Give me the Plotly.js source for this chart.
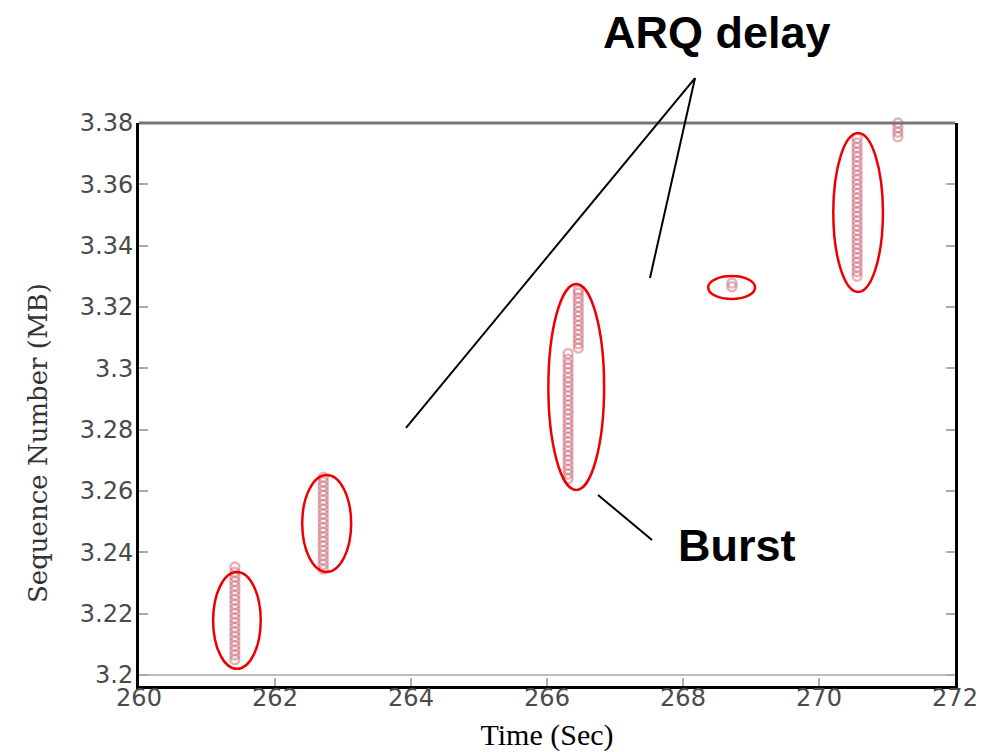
<!DOCTYPE html>
<html>
<head>
<meta charset="utf-8">
<script src="https://cdn.plot.ly/plotly-3.0.1.min.js"></script>
<style>html,body{margin:0;padding:0;background:#fff;}#chart{width:993px;height:752px;}</style>
</head>
<body>
<div id="chart"></div>
<script>
// ---- data ----
// time (s) at which each burst of packets arrives
const burstTimes = [261.41, 262.71, 266.31, 266.46, 268.72, 270.56, 271.16];
// sequence numbers (MB) of the packets in each burst
const burst1Seq = [3.2050, 3.2065, 3.2080, 3.2095, 3.2110, 3.2125, 3.2140, 3.2155, 3.2170, 3.2185, 3.2200,
                   3.2215, 3.2230, 3.2245, 3.2260, 3.2275, 3.2290, 3.2305, 3.2320, 3.2335, 3.2352];
const burst2Seq = [3.2345, 3.2360, 3.2375, 3.2390, 3.2405, 3.2420, 3.2435, 3.2450, 3.2465, 3.2480, 3.2495,
                   3.2510, 3.2525, 3.2540, 3.2555, 3.2570, 3.2585, 3.2600, 3.2615, 3.2630, 3.2645];
const burst3Seq = [3.2640, 3.2655, 3.2670, 3.2685, 3.2700, 3.2715, 3.2730, 3.2745, 3.2760, 3.2775, 3.2790,
                   3.2805, 3.2820, 3.2835, 3.2850, 3.2865, 3.2880, 3.2895, 3.2910, 3.2925, 3.2940, 3.2955,
                   3.2970, 3.2985, 3.3000, 3.3015, 3.3030, 3.3048];
const burst4Seq = [3.3066, 3.3080, 3.3095, 3.3110, 3.3125, 3.3140, 3.3155, 3.3170, 3.3185, 3.3200, 3.3215,
                   3.3230, 3.3245, 3.3255];
const burst5Seq = [3.3266, 3.3278];
const burst6Seq = [3.3300, 3.3315, 3.3330, 3.3345, 3.3360, 3.3375, 3.3390, 3.3405, 3.3420, 3.3435, 3.3450,
                   3.3465, 3.3480, 3.3495, 3.3510, 3.3525, 3.3540, 3.3555, 3.3570, 3.3585, 3.3600, 3.3615,
                   3.3630, 3.3645, 3.3660, 3.3675, 3.3690, 3.3705, 3.3720, 3.3735, 3.3750];
const burst7Seq = [3.3755, 3.3770, 3.3785, 3.3800, 3.3815];
const burstSeqs = [burst1Seq, burst2Seq, burst3Seq, burst4Seq, burst5Seq, burst6Seq, burst7Seq];

const xTickVals = [260, 262, 264, 266, 268, 270, 272];
const xTickText = ['260', '262', '264', '266', '268', '270', '272'];
const yTickVals = [3.2, 3.22, 3.24, 3.26, 3.28, 3.3, 3.32, 3.34, 3.36, 3.38];
const yTickText = ['3.2', '3.22', '3.24', '3.26', '3.28', '3.3', '3.32', '3.34', '3.36', '3.38'];

// highlighted groups (time range, sequence range)
const groupTimeLo = [261.09, 262.40, 266.02, 268.37, 270.21];
const groupTimeHi = [261.79, 263.12, 266.84, 269.06, 270.94];
const groupSeqLo  = [3.2020, 3.2336, 3.2603, 3.3226, 3.3249];
const groupSeqHi  = [3.2336, 3.2652, 3.3275, 3.3301, 3.3767];

// ---- build traces ----
const xs = [], ys = [];
burstSeqs.forEach((seq, i) => {
  seq.forEach(v => { xs.push(burstTimes[i]); ys.push(v); });
});

const traces = [{
  type: 'scatter',
  mode: 'markers',
  x: xs,
  y: ys,
  cliponaxis: false,
  hoverinfo: 'x+y',
  marker: {
    symbol: 'circle-open',
    size: 9,
    color: 'rgba(205,115,128,0.55)',
    line: {width: 2.4}
  },
  showlegend: false
}];

const shapes = [];
// baseline gray line at 3.2 and gray top border
shapes.push({type: 'line', xref: 'paper', yref: 'y', x0: 0, x1: 1, y0: 3.2, y1: 3.2,
             line: {color: '#bdbdbd', width: 2}, layer: 'below'});
shapes.push({type: 'line', xref: 'paper', yref: 'paper', x0: 0, x1: 1, y0: 1, y1: 1,
             line: {color: '#777', width: 3}});
// red ellipses
for (let i = 0; i < groupTimeLo.length; i++) {
  shapes.push({type: 'circle', xref: 'x', yref: 'y',
               x0: groupTimeLo[i], x1: groupTimeHi[i], y0: groupSeqLo[i], y1: groupSeqHi[i],
               line: {color: '#ee0000', width: 2.5}});
}
// pointer lines
shapes.push({type: 'line', xref: 'paper', yref: 'paper', x0: 0.3272, y0: 0.4583, x1: 0.6814, y1: 1.0799,
             line: {color: '#000', width: 2}});
shapes.push({type: 'line', xref: 'paper', yref: 'paper', x0: 0.6262, y0: 0.7247, x1: 0.6814, y1: 1.0799,
             line: {color: '#000', width: 2}});
shapes.push({type: 'line', xref: 'paper', yref: 'paper', x0: 0.5625, y0: 0.3393, x1: 0.6287, y1: 0.2593,
             line: {color: '#000', width: 2}});

const annFont = {family: 'Liberation Sans, Arial, sans-serif', size: 45, color: '#000', weight: 'bold'};
const annotations = [
  {text: '<b>ARQ delay</b>', xref: 'paper', yref: 'paper', x: 0.7083, y: 1.1599,
   xanchor: 'center', yanchor: 'middle', showarrow: false, font: annFont},
  {text: '<b>Burst</b>', xref: 'paper', yref: 'paper', x: 0.7328, y: 0.2504,
   xanchor: 'center', yanchor: 'middle', showarrow: false, font: annFont},
  // y-axis title (placed as in the original figure, below the axis centre)
  {text: 'Sequence Number (MB)', xref: 'paper', yref: 'paper', x: -0.1238, y: 0.4316,
   xanchor: 'center', yanchor: 'middle', textangle: -90, showarrow: false,
   font: {family: 'DejaVu Serif, serif', size: 26, color: '#333'}}
];

const tickFont = {family: 'DejaVu Sans, sans-serif', size: 24, color: '#4a4a4a'};

const layout = {
  width: 993,
  height: 752,
  margin: {l: 139, r: 38, t: 123, b: 66, pad: 0},
  paper_bgcolor: '#fff',
  plot_bgcolor: '#fff',
  showlegend: false,
  xaxis: {
    range: [260, 272],
    tickvals: xTickVals,
    ticktext: xTickText,
    ticks: 'inside',
    ticklen: 8,
    tickwidth: 2,
    tickcolor: '#aaa',
    showgrid: false,
    zeroline: false,
    showline: true,
    linecolor: '#000',
    linewidth: 3,
    mirror: false,
    tickfont: tickFont,
    ticklabelstandoff: -12,
    title: {text: 'Time (Sec)', standoff: 27,
            font: {family: 'Liberation Serif, Times New Roman, serif', size: 30, color: '#000'}}
  },
  yaxis: {
    range: [3.1964, 3.38],
    tickvals: yTickVals,
    ticktext: yTickText,
    ticks: 'inside',
    ticklen: 9,
    tickwidth: 2,
    tickcolor: '#aaa',
    showgrid: false,
    zeroline: false,
    showline: true,
    linecolor: '#000',
    linewidth: 3,
    mirror: 'ticks',
    tickfont: tickFont,
    ticklabelstandoff: -2
  },
  shapes: shapes,
  annotations: annotations
};

Plotly.newPlot('chart', traces, layout, {displayModeBar: false, staticPlot: true});
</script>
</body>
</html>
